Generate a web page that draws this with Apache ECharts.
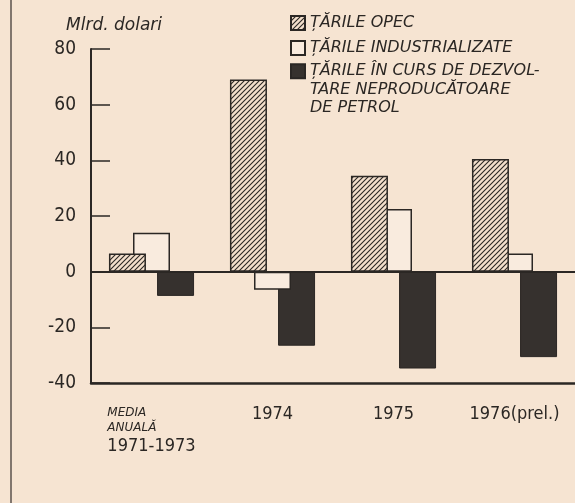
<!DOCTYPE html>
<html>
<head>
<meta charset="utf-8">
<script src="https://cdn.jsdelivr.net/npm/echarts@6/dist/echarts.min.js"></script>
<style>
html, body { margin: 0; padding: 0; background: #f6e4d2; }
#chart { width: 575px; height: 503px; }
</style>
</head>
<body>
<div id="chart"></div>
<script>
// date (mlrd. dolari)
var categories = ['MEDIA\nANUALĂ\n1971-1973', '1974', '1975', '1976(prel.)'];
var opec = [6.5, 69, 34.5, 40.5];
var industrial = [14, -6.5, 22.5, 6.5];
var developing = [-8.7, -26.6, -34.8, -30.7];
var seriesNames = ['ȚĂRILE OPEC', 'ȚĂRILE INDUSTRIALIZATE', 'ȚĂRILE ÎN CURS DE DEZVOLTARE NEPRODUCĂTOARE DE PETROL'];
var devLegendText = 'ȚĂRILE ÎN CURS DE DEZVOL-\nTARE NEPRODUCĂTOARE\nDE PETROL';
var yMin = -40, yMax = 80, yStep = 20;

var ink = '#2b2724';
var paper = '#f6e4d2';
var numFont = '"DejaVu Sans Condensed", "Liberation Sans Narrow", sans-serif';
var itFont = '"DejaVu Sans", "Liberation Sans", sans-serif';

// hasura pentru OPEC
function hatch() {
    var c = document.createElement('canvas');
    c.width = 5; c.height = 5;
    var ctx = c.getContext('2d');
    ctx.fillStyle = '#f3dfcc';
    ctx.fillRect(0, 0, 5, 5);
    ctx.strokeStyle = ink;
    ctx.lineWidth = 1.1;
    ctx.beginPath();
    ctx.moveTo(-1, 6); ctx.lineTo(6, -1);
    ctx.moveTo(-1, 1); ctx.lineTo(1, -1);
    ctx.moveTo(4, 6); ctx.lineTo(6, 4);
    ctx.stroke();
    return c;
}

var chart = echarts.init(document.getElementById('chart'));
chart.setOption({
    backgroundColor: paper,
    animation: false,
    title: {
        text: 'Mlrd. dolari',
        left: 61, top: 12,
        textStyle: { fontFamily: itFont, fontStyle: 'italic', fontWeight: 'normal', fontSize: 17, color: ink }
    },
    legend: [{
        orient: 'vertical',
        left: 290, top: 15, padding: 0,
        itemWidth: 14, itemHeight: 14, itemGap: 9,
        icon: 'rect',
        data: [seriesNames[0], seriesNames[1]],
        textStyle: { fontFamily: itFont, fontStyle: 'italic', fontSize: 16, color: ink, lineHeight: 14 }
    }, {
        orient: 'vertical',
        left: 290, top: 25, padding: 0,
        itemWidth: 14, itemHeight: 14,
        icon: 'rect',
        data: [seriesNames[2]],
        formatter: function () { return '\n\n' + devLegendText; },
        textStyle: { fontFamily: itFont, fontStyle: 'italic', fontSize: 16, color: ink, lineHeight: 18.5 }
    }],
    graphic: [{
        type: 'line', shape: { x1: 11, y1: 0, x2: 11, y2: 503 },
        style: { stroke: '#5a524c', lineWidth: 1.5 }
    }],
    grid: { left: 91, right: 0, top: 49, bottom: 120 },
    xAxis: {
        type: 'category',
        data: categories,
        axisLine: { onZero: false, lineStyle: { color: ink, width: 2.5 } },
        axisTick: { show: false },
        axisLabel: {
            interval: 0,
            margin: 22,
            color: ink,
            fontFamily: numFont,
            fontSize: 18,
            formatter: function (v, i) {
                if (i === 0) {
                    var p = v.split('\n');
                    return '{s|' + p[0] + '}\n{s|' + p[1] + '}\n{n|' + p[2] + '}';
                }
                return v;
            },
            rich: {
                s: { fontFamily: itFont, fontStyle: 'italic', fontSize: 12, lineHeight: 15, color: ink, align: 'left' },
                n: { fontFamily: numFont, fontSize: 18, lineHeight: 22, color: ink, align: 'left' }
            }
        }
    },
    yAxis: {
        type: 'value',
        min: yMin, max: yMax, interval: yStep,
        axisLine: { show: true, lineStyle: { color: ink, width: 2 } },
        axisTick: { show: true, inside: true, length: 19, lineStyle: { color: ink, width: 1.5 } },
        splitLine: { show: false },
        axisLabel: { margin: 15, color: ink, fontFamily: numFont, fontSize: 19 }
    },
    series: [{
        name: seriesNames[0],
        type: 'bar',
        z: 5,
        barWidth: 37,
        barGap: '-35%',
        data: opec,
        itemStyle: { color: { image: hatch(), repeat: 'repeat' }, borderColor: ink, borderWidth: 1.5 },
        markLine: {
            silent: true,
            symbol: 'none',
            label: { show: false },
            lineStyle: { color: ink, width: 2, type: 'solid' },
            data: [{ yAxis: 0 }]
        }
    }, {
        name: seriesNames[1],
        type: 'bar',
        z: 4,
        barWidth: 37,
        barGap: '-35%',
        data: industrial,
        itemStyle: { color: '#f9ebde', borderColor: ink, borderWidth: 1.5 }
    }, {
        name: seriesNames[2],
        type: 'bar',
        z: 3,
        barWidth: 37,
        barGap: '-35%',
        data: developing,
        itemStyle: { color: '#36312e', borderColor: '#2a2624', borderWidth: 1 }
    }]
});
</script>
</body>
</html>
